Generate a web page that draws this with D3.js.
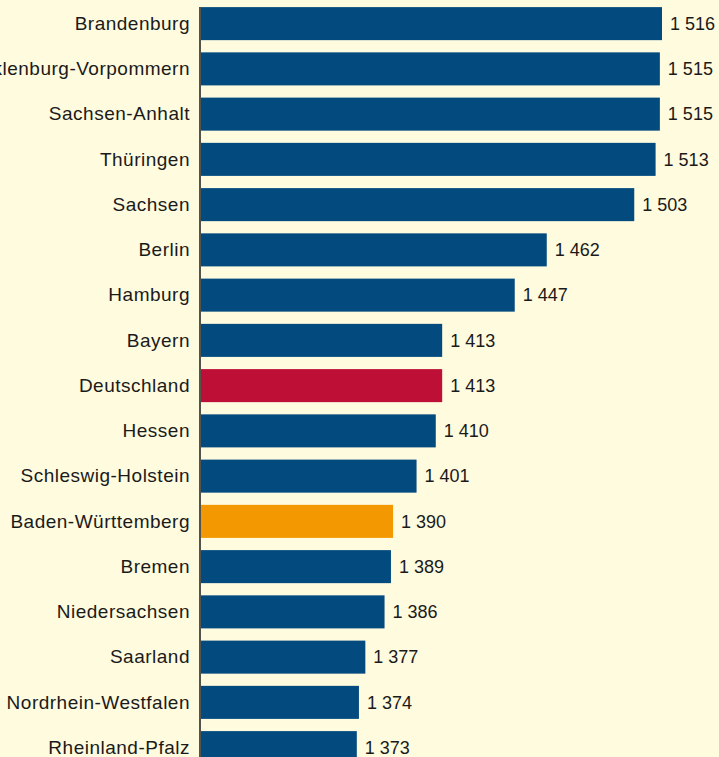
<!DOCTYPE html>
<html>
<head>
<meta charset="utf-8">
<script src="https://cdn.jsdelivr.net/npm/d3@7"></script>
<style>
  html, body { margin: 0; padding: 0; background: #fffbdf; }
  svg { display: block; }
  text { font-family: "Liberation Sans", Arial, sans-serif; font-size: 18px; fill: #1a1a1a; }
  text.label { font-size: 19px; letter-spacing: 0.5px; }
</style>
</head>
<body>
<div id="chart"></div>
<script>
const states = [
  'Brandenburg', 'Mecklenburg-Vorpommern', 'Sachsen-Anhalt', 'Thüringen', 'Sachsen',
  'Berlin', 'Hamburg', 'Bayern', 'Deutschland', 'Hessen', 'Schleswig-Holstein',
  'Baden-Württemberg', 'Bremen', 'Niedersachsen', 'Saarland', 'Nordrhein-Westfalen',
  'Rheinland-Pfalz'
];
const values = [1516, 1515, 1515, 1513, 1503, 1462, 1447, 1413, 1413, 1410, 1401, 1390, 1389, 1386, 1377, 1374, 1373];
const highlight = { 'Deutschland': '#be0f36', 'Baden-Württemberg': '#f39800' };

document.addEventListener('DOMContentLoaded', () => {
  const width = 719;
  const height = 757;
  const axisX = 200;

  const data = states.map((s, i) => ({ name: s, value: values[i] }));

  const svg = d3.select('#chart')
                .append('svg')
                .attr('width', width)
                .attr('height', height);

  const xScale = d3.scaleLinear()
                   .domain([1300, 1516])
                   .range([axisX + 1, 662]);

  const yScale = d3.scaleBand()
                   .domain(states)
                   .range([1, 1 + states.length * 45.25])
                   .paddingInner(0.27)
                   .paddingOuter(0.135);

  svg.selectAll('rect.bar')
     .data(data)
     .enter()
     .append('rect')
     .attr('class', 'bar')
     .attr('x', xScale(1300))
     .attr('y', d => yScale(d.name))
     .attr('width', d => xScale(d.value) - xScale(1300))
     .attr('height', yScale.bandwidth())
     .attr('fill', d => highlight[d.name] || '#034a7f');

  svg.selectAll('text.label')
     .data(data)
     .enter()
     .append('text')
     .attr('class', 'label')
     .attr('x', axisX - 10)
     .attr('y', d => yScale(d.name) + yScale.bandwidth() / 2)
     .attr('dy', '0.33em')
     .attr('text-anchor', 'end')
     .text(d => d.name);

  svg.selectAll('text.value')
     .data(data)
     .enter()
     .append('text')
     .attr('class', 'value')
     .attr('x', d => xScale(d.value) + 8)
     .attr('y', d => yScale(d.name) + yScale.bandwidth() / 2)
     .attr('dy', '0.35em')
     .text(d => d3.format(',')(d.value).replace(',', ' '));

  svg.append('line')
     .attr('x1', axisX)
     .attr('x2', axisX)
     .attr('y1', yScale(states[0]))
     .attr('y2', height)
     .attr('stroke', '#1a1a1a')
     .attr('stroke-width', 1.5);
});
</script>
</body>
</html>
